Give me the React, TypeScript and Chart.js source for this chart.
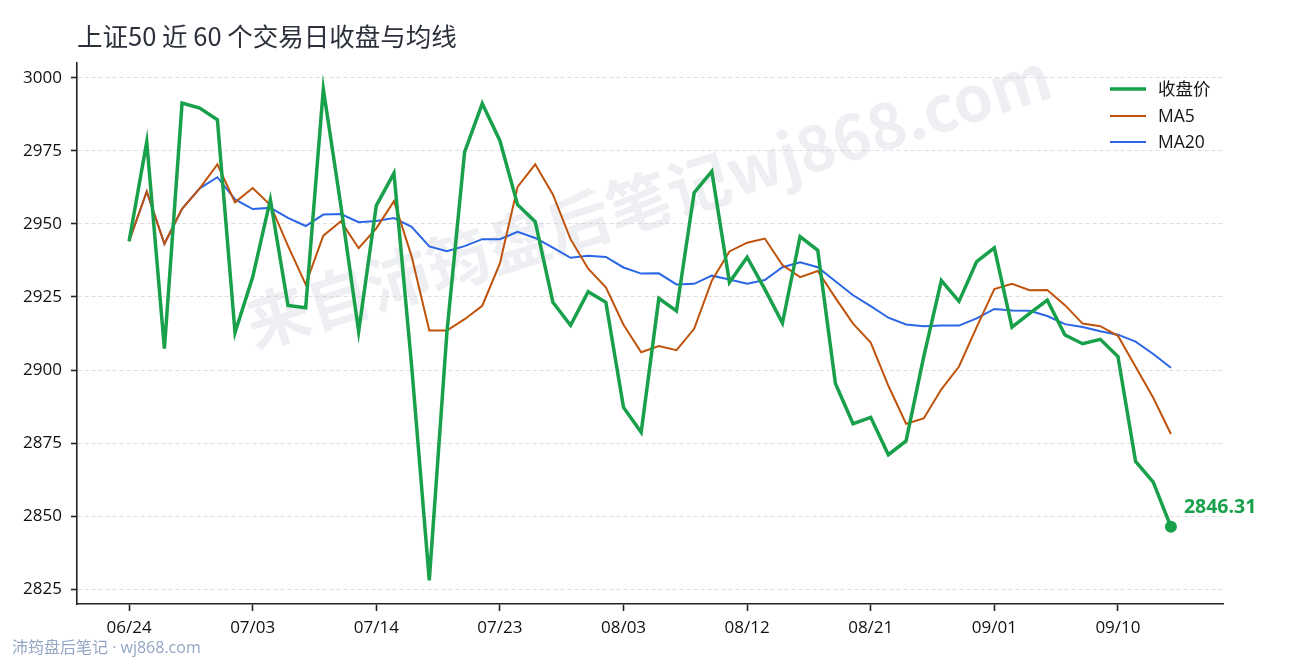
import React, { useEffect, useRef } from "react";
import { Chart, registerables } from "chart.js";

Chart.register(...registerables);

const TITLE = "上证50 近 60 个交易日收盘与均线";
const WATERMARK = "来自沛筠盘后笔记wj868.com";
const FOOTER = "沛筠盘后笔记 · wj868.com";
const seriesNames = ["收盘价", "MA5", "MA20"];

const dates = [
  "06/24", "06/25", "06/26", "06/27", "06/28", "07/01", "07/02", "07/03", "07/04", "07/07",
  "07/08", "07/09", "07/10", "07/11", "07/14", "07/15", "07/16", "07/17", "07/18", "07/21",
  "07/22", "07/23", "07/24", "07/25", "07/28", "07/29", "07/30", "07/31", "08/03", "08/04",
  "08/05", "08/06", "08/07", "08/10", "08/11", "08/12", "08/13", "08/14", "08/17", "08/18",
  "08/19", "08/20", "08/21", "08/24", "08/25", "08/26", "08/27", "08/28", "08/31", "09/01",
  "09/02", "09/03", "09/04", "09/07", "09/08", "09/09", "09/10", "09/11", "09/14", "09/15",
];

const closeValues = [
  2944.1, 2978.1, 2907.3, 2991.4, 2989.7, 2985.7, 2912.8, 2931.8, 2958.3, 2922.1,
  2921.3, 2996.2, 2956.0, 2913.2, 2956.3, 2967.4, 2901.5, 2828.0, 2913.0, 2974.6,
  2991.2, 2978.5, 2956.6, 2950.8, 2923.2, 2915.3, 2926.8, 2923.2, 2887.2, 2878.7,
  2924.5, 2920.2, 2960.7, 2968.0, 2930.0, 2938.6, 2927.7, 2916.1, 2945.7, 2941.0,
  2895.4, 2881.6, 2883.8, 2871.0, 2875.7, 2904.5, 2930.6, 2923.5, 2937.1, 2941.8,
  2914.7, 2919.4, 2923.9, 2912.0, 2909.0, 2910.5, 2904.6, 2868.7, 2861.6, 2846.31,
];

const ma5Values = [
  2944.1, 2961.1, 2943.2, 2955.2, 2962.2, 2970.4, 2957.4, 2962.3, 2956.5, 2942.5,
  2929.3, 2946.0, 2950.9, 2941.7, 2948.5, 2957.8, 2938.9, 2913.5, 2913.5, 2917.4,
  2922.0, 2936.5, 2962.7, 2970.4, 2960.1, 2944.8, 2934.7, 2928.3, 2915.5, 2906.1,
  2908.2, 2906.8, 2914.1, 2930.6, 2940.6, 2943.6, 2945.0, 2935.9, 2931.8, 2933.9,
  2924.7, 2915.9, 2909.4, 2894.6, 2881.6, 2883.4, 2893.4, 2901.2, 2914.7, 2927.7,
  2929.5, 2927.3, 2927.4, 2922.2, 2915.9, 2915.0, 2911.7, 2901.1, 2890.5, 2878.1,
];

const ma20Values = [
  2944.1, 2961.1, 2943.2, 2955.2, 2962.2, 2966.0, 2958.4, 2955.1, 2955.5, 2952.1,
  2949.3, 2953.2, 2953.4, 2950.6, 2951.0, 2952.0, 2949.0, 2942.3, 2940.7, 2942.4,
  2944.8, 2944.8, 2947.3, 2945.2, 2941.9, 2938.4, 2939.1, 2938.7, 2935.1, 2933.0,
  2933.1, 2929.3, 2929.5, 2932.3, 2931.0, 2929.5, 2930.8, 2935.2, 2936.9, 2935.2,
  2930.4, 2925.6, 2921.9, 2917.9, 2915.6, 2915.0, 2915.2, 2915.2, 2917.7, 2920.9,
  2920.4, 2920.3, 2918.5, 2915.7, 2914.7, 2913.3, 2912.1, 2909.7, 2905.5, 2900.8,
];

const xTickIndices = [0, 7, 14, 21, 28, 35, 42, 49, 56];
const yTickValues = [2825, 2850, 2875, 2900, 2925, 2950, 2975, 3000];

const GREEN = "#18a04a";
const ORANGE = "#c0530c";
const BLUE = "#2a66e6";
const FONT = "'Open Sans', 'Noto Sans CJK SC', sans-serif";
const CJK = "'Noto Sans CJK SC', 'Open Sans', sans-serif";

const decorPlugin = {
  id: "decor",
  beforeDatasetsDraw(chart: any) {
    const ctx = chart.ctx;
    ctx.save();
    ctx.translate(648, 200);
    ctx.rotate((-17.5 * Math.PI) / 180);
    ctx.font = `bold 63px ${CJK}`;
    ctx.fillStyle = "rgba(190,196,212,0.28)";
    ctx.textAlign = "center";
    ctx.textBaseline = "middle";
    ctx.fillText(WATERMARK, 0, 0);
    ctx.restore();
  },
  afterDraw(chart: any) {
    const ctx = chart.ctx;
    ctx.save();
    // title
    ctx.font = `25.5px ${CJK}`;
    ctx.fillStyle = "#2b303b";
    ctx.textAlign = "left";
    ctx.textBaseline = "middle";
    ctx.fillText(TITLE, 77, 36);
    // footer
    ctx.font = `16px ${FONT}`;
    ctx.fillStyle = "#94a6c4";
    ctx.fillText(FOOTER, 12, 648);
    // legend
    const colors = [GREEN, ORANGE, BLUE];
    const widths = [3.6, 2, 2];
    const ys = [89, 116, 142];
    for (let i = 0; i < seriesNames.length; i++) {
      ctx.strokeStyle = colors[i];
      ctx.lineWidth = widths[i];
      ctx.beginPath();
      ctx.moveTo(1110, ys[i]);
      ctx.lineTo(1146, ys[i]);
      ctx.stroke();
      ctx.font = `17.5px ${FONT}`;
      ctx.fillStyle = "#151515";
      ctx.fillText(seriesNames[i], 1158, ys[i] + 1);
    }
    // last value label
    const meta = chart.getDatasetMeta(0);
    const last = meta.data[meta.data.length - 1];
    if (last) {
      ctx.font = `bold 19.5px ${FONT}`;
      ctx.fillStyle = GREEN;
      ctx.textAlign = "left";
      ctx.fillText(
        closeValues[closeValues.length - 1].toFixed(2),
        last.x + 13,
        last.y - 19
      );
    }
    ctx.restore();
  },
};

export default function App() {
  const canvasRef = useRef<HTMLCanvasElement | null>(null);

  useEffect(() => {
    if (!canvasRef.current) return;
    const lastIdx = closeValues.length - 1;
    const chart = new Chart(canvasRef.current, {
      type: "line",
      data: {
        datasets: [
          {
            label: seriesNames[0],
            data: closeValues.map((v, i) => ({ x: i, y: v })),
            borderColor: GREEN,
            backgroundColor: GREEN,
            borderWidth: 3.5,
            pointRadius: (c: any) => (c.dataIndex === lastIdx ? 6 : 0),
            pointBackgroundColor: GREEN,
            pointBorderWidth: 0,
            tension: 0,
          },
          {
            label: seriesNames[1],
            data: ma5Values.map((v, i) => ({ x: i, y: v })),
            borderColor: ORANGE,
            borderWidth: 2,
            pointRadius: 0,
            tension: 0,
          },
          {
            label: seriesNames[2],
            data: ma20Values.map((v, i) => ({ x: i, y: v })),
            borderColor: BLUE,
            borderWidth: 2,
            pointRadius: 0,
            tension: 0,
          },
        ],
      },
      options: {
        animation: false,
        responsive: false,
        devicePixelRatio: 1,
        layout: { padding: { top: 63, right: 67, left: 0, bottom: 0 } },
        plugins: {
          legend: { display: false },
          tooltip: { enabled: false },
          title: { display: false },
        },
        scales: {
          x: {
            type: "linear",
            min: -2.95,
            max: 61.95,
            bounds: "data",
            afterBuildTicks: (s: any) => {
              s.ticks = xTickIndices.map((v) => ({ value: v }));
            },
            afterFit: (s: any) => {
              s.height = 56;
            },
            grid: {
              drawOnChartArea: false,
              drawTicks: true,
              tickLength: 7,
              tickColor: "#222",
              tickWidth: 1.6,
            },
            border: { display: true, color: "#222", width: 1.6 },
            ticks: {
              callback: (v: any) => dates[v] ?? "",
              color: "#111",
              font: { family: FONT, size: 17 },
              padding: 7,
              maxRotation: 0,
              autoSkip: false,
            },
          },
          y: {
            type: "linear",
            min: 2819.9,
            max: 3005.1,
            bounds: "data",
            afterBuildTicks: (s: any) => {
              s.ticks = yTickValues.map((v) => ({ value: v }));
            },
            afterFit: (s: any) => {
              s.width = 77;
            },
            grid: {
              color: "#dedede",
              lineWidth: 1,
              drawTicks: true,
              tickLength: 6,
              tickColor: "#222",
              tickWidth: 1.6,
            },
            border: { display: true, color: "#222", width: 1.6, dash: [4, 3] },
            ticks: {
              callback: (v: any) => String(v),
              color: "#111",
              font: { family: FONT, size: 17 },
              padding: 9,
            },
          },
        },
      },
      plugins: [decorPlugin],
    } as any);
    return () => chart.destroy();
  }, []);

  return (
    <div style={{ position: "absolute", left: 0, top: 0, width: 1290, height: 660, background: "#fff" }}>
      <canvas ref={canvasRef} width={1290} height={660} style={{ display: "block", width: 1290, height: 660 }} />
    </div>
  );
}
